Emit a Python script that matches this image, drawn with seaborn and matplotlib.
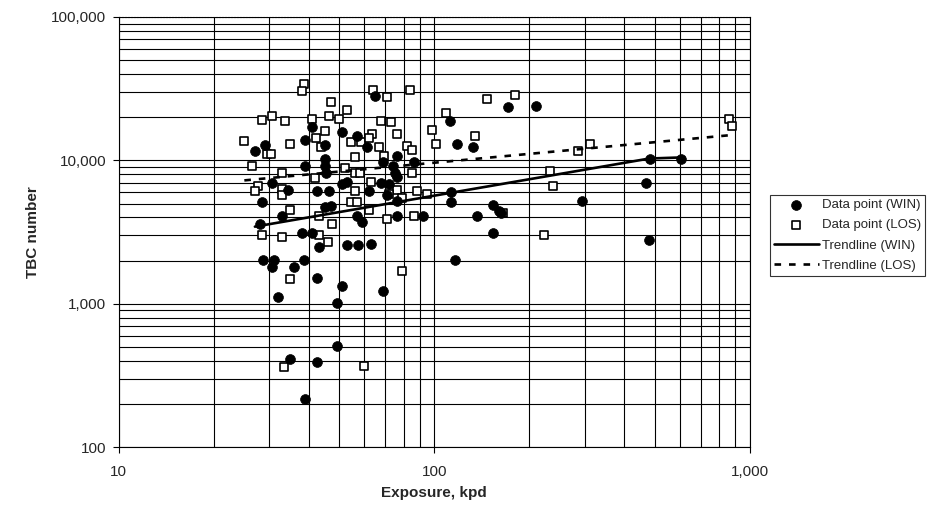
import numpy as np
import pandas as pd
import seaborn as sns
import matplotlib.pyplot as plt
from matplotlib.ticker import FuncFormatter, LogLocator, NullFormatter

# data (exposure in kpd, TBC number)
win_x = [65, 171, 210, 112, 41, 51, 57, 39, 29, 27, 45, 61, 118, 133, 76, 86,
         45, 69, 39, 45, 74, 45.5, 75, 76, 30.5, 68, 51, 53, 72, 34.5, 42.6,
         46.5, 62, 71, 113, 28.4, 45, 47, 76, 113, 153, 160, 163, 137, 33, 57,
         76, 92, 59, 28, 38, 41, 43, 53, 57.5, 63, 153, 28.6, 31, 30.7, 36,
         38.5, 116, 42.6, 51, 69, 32, 49, 49, 35, 42.6, 39, 483, 605, 469,
         294, 479]
win_y = [28000, 23500, 23900, 18700, 17000, 15700, 14700, 13800, 12900, 11600,
         12900, 12300, 13100, 12300, 10800, 9700, 10200, 9700, 9200, 9100,
         9100, 8200, 8100, 7600, 6900, 7000, 6800, 7100, 6800, 6200, 6100,
         6100, 6100, 5700, 6000, 5100, 4700, 4800, 5200, 5100, 4900, 4400,
         4300, 4100, 4100, 4100, 4100, 4100, 3700, 3600, 3100, 3100, 2500,
         2550, 2550, 2630, 3100, 2030, 2030, 1810, 1810, 2030, 2030, 1520,
         1320, 1230, 1120, 1020, 510, 410, 390, 217, 10300, 10300, 6900,
         5200, 2800]

los_x = [38.5, 38, 64, 71, 84, 47, 53, 147, 180, 28.4, 30.7, 33.7, 41, 46.5,
         50, 68, 73, 109, 25, 35, 42.3, 45, 43.6, 54.6, 58.7, 76, 63.6, 62,
         98.6, 101, 135, 67, 82, 85, 29.4, 30.3, 26.4, 56, 69.5, 52, 56, 58,
         33, 42, 63, 85, 27.7, 27, 33, 33, 56, 76, 88, 72, 95, 54.6, 57, 79,
         35, 62, 71, 86, 165, 43, 47.5, 28.4, 33, 43, 46, 35, 79, 33.5, 60,
         860, 877, 312, 286, 233, 238, 223]
los_y = [34000, 30400, 30900, 27600, 30900, 25500, 22400, 26700, 28500, 19000,
         20300, 18700, 19400, 20300, 19400, 18700, 18400, 21300, 13600, 13100,
         14300, 16000, 12300, 13400, 13400, 15200, 15200, 14300, 16200, 13100,
         14700, 12300, 12500, 11900, 11000, 11000, 9200, 10500, 10800, 8900,
         8200, 8100, 8100, 7500, 7100, 8200, 6600, 6100, 6300, 5700, 6100,
         6200, 6100, 5800, 5800, 5100, 5100, 5500, 4500, 4500, 3900, 4100,
         4300, 4100, 3600, 3000, 2900, 3000, 2700, 1500, 1700, 360, 370,
         19400, 17300, 13100, 11700, 8400, 6600, 3000]

trend_win_x = [27, 480, 620]
trend_win_y = [3450, 10300, 10500]
trend_los_x = [25, 870]
trend_los_y = [7250, 15000]

win = pd.DataFrame({"x": win_x, "y": win_y})
los = pd.DataFrame({"x": los_x, "y": los_y})
tw = pd.DataFrame({"x": trend_win_x, "y": trend_win_y})
tl = pd.DataFrame({"x": trend_los_x, "y": trend_los_y})

sns.set_style("white")
plt.rcParams['font.family'] = ['Liberation Sans', 'DejaVu Sans']

fig = plt.figure(figsize=(9.28, 5.14), dpi=100)
ax = fig.add_axes([0.128, 0.130, 0.680, 0.837])

sns.scatterplot(data=win, x="x", y="y", ax=ax, marker="o", s=50,
                color="black", edgecolor="black", linewidth=0.5,
                label="Data point (WIN)", zorder=4)
sns.scatterplot(data=los, x="x", y="y", ax=ax, marker="s", s=38,
                facecolor="white", edgecolor="black", linewidth=1.2,
                label="Data point (LOS)", zorder=3)
sns.lineplot(data=tw, x="x", y="y", ax=ax, color="black", linewidth=1.9,
             label="Trendline (WIN)", zorder=5)
sns.lineplot(data=tl, x="x", y="y", ax=ax, color="black", linewidth=1.9,
             linestyle=(0, (2.5, 3)), label="Trendline (LOS)", zorder=5)

ax.set_xscale("log")
ax.set_yscale("log")
ax.set_xlim(10, 1000)
ax.set_ylim(100, 100000)

ax.xaxis.set_major_locator(LogLocator(base=10))
ax.yaxis.set_major_locator(LogLocator(base=10))
ax.xaxis.set_minor_locator(LogLocator(base=10, subs=np.arange(2, 10)))
ax.yaxis.set_minor_locator(LogLocator(base=10, subs=np.arange(2, 10)))
fmt = FuncFormatter(lambda v, p: f"{v:,.0f}")
ax.xaxis.set_major_formatter(fmt)
ax.yaxis.set_major_formatter(fmt)
ax.xaxis.set_minor_formatter(NullFormatter())
ax.yaxis.set_minor_formatter(NullFormatter())

ax.grid(True, which="both", color="black", linewidth=0.8)
ax.set_axisbelow(True)
ax.tick_params(axis="both", which="major", direction="out", length=4,
               width=0.8, color="black", labelsize=11, pad=5, bottom=True, left=True)
ax.tick_params(axis="x", which="major", pad=9)
ax.tick_params(axis="both", which="minor", length=0)
for s in ax.spines.values():
    s.set_color("black")
    s.set_linewidth(0.8)
ax.spines["top"].set_linestyle(":")

ax.set_xlabel("Exposure, kpd", fontsize=11, fontweight="bold", labelpad=5)
ax.set_ylabel("TBC number", fontsize=11, fontweight="bold", labelpad=8)

leg = ax.legend(loc="upper left", bbox_to_anchor=(1.032, 0.586), fontsize=9.5,
                frameon=True, fancybox=False, edgecolor="black",
                borderaxespad=0, handlelength=3.4, handletextpad=0.25,
                borderpad=0.3, labelspacing=0.6)
leg.get_frame().set_linewidth(0.8)

fig.savefig("out.png", dpi=100)
